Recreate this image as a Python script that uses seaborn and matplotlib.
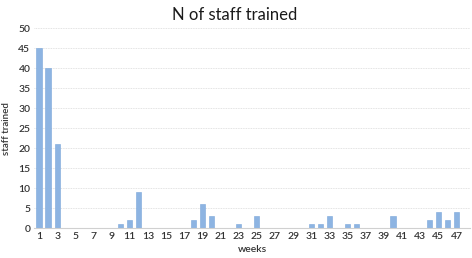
import matplotlib
matplotlib.use("Agg")
import matplotlib.pyplot as plt
import seaborn as sns
import pandas as pd

# weekly counts
weeks = list(range(1, 49))
staff_trained = [45, 40, 21, 0, 0, 0, 0, 0, 0, 1,
                 2, 9, 0, 0, 0, 0, 0, 2, 6, 3,
                 0, 0, 1, 0, 3, 0, 0, 0, 0, 0,
                 1, 1, 3, 0, 1, 1, 0, 0, 0, 3,
                 0, 0, 0, 2, 4, 2, 4, 0]
y_ticks = [0, 5, 10, 15, 20, 25, 30, 35, 40, 45, 50]

df = pd.DataFrame({"week": weeks, "n": staff_trained})

sns.set_style("white")
plt.rcParams["font.family"] = ["Lato", "DejaVu Sans"]

fig = plt.figure(figsize=(4.72, 2.58), dpi=100)
ax = fig.add_axes([0.073, 0.116, 0.923, 0.775])

sns.barplot(data=df, x="week", y="n", color="#8db4e2", width=0.58,
            edgecolor="#7aa6d9", linewidth=0.4, saturation=1, ax=ax)

ax.set_ylim(0, 50)
ax.set_yticks(y_ticks)
ax.set_xlim(-0.5, len(weeks) - 0.5)
ax.set_xticks(range(0, len(weeks), 2))
ax.set_xticklabels([str(w) for w in weeks[::2]])
ax.tick_params(axis="both", length=0, labelsize=7.5, colors="#333333", pad=3)
for lab in ax.get_xticklabels() + ax.get_yticklabels():
    lab.set_fontweight("semibold")

ax.grid(axis="y", color="#d9d9d9", linestyle=(0, (1, 1)), linewidth=0.6)
ax.set_axisbelow(True)
for s in ["top", "right", "left"]:
    ax.spines[s].set_visible(False)
ax.spines["bottom"].set_color("#d0d0d0")
ax.spines["bottom"].set_linewidth(0.8)

ax.set_xlabel("weeks", fontsize=7.5, color="#333333", labelpad=3,
              fontweight="semibold")
ax.set_ylabel("staff trained", fontsize=7, color="#333333", labelpad=5,
              fontweight="semibold")
fig.text(0.497, 0.94, "N of staff trained", ha="center", va="center",
         fontsize=12, color="#1a1a1a")

fig.savefig("out.png", dpi=100)
